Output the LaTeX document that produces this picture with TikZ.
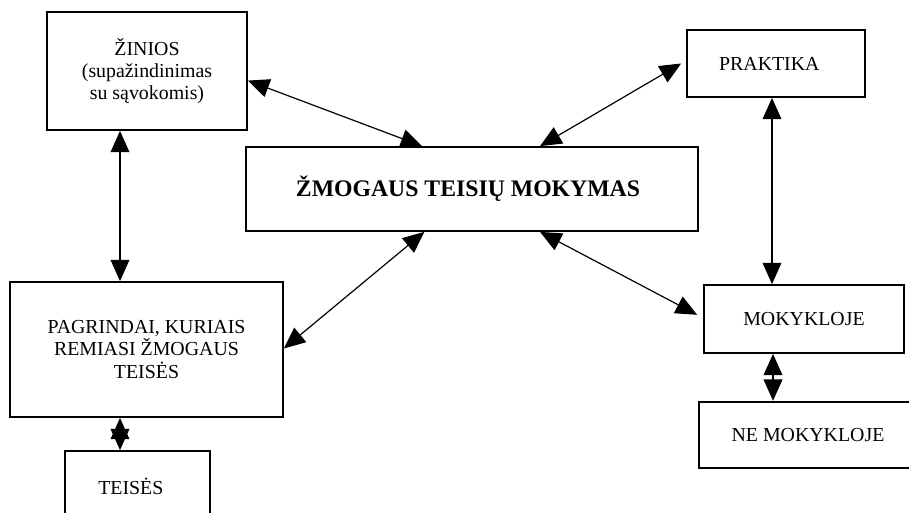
\documentclass[tikz,border=0pt]{standalone}
\usepackage{fontspec}
\setmainfont{Liberation Serif}
\usetikzlibrary{arrows.meta,calc}
\begin{document}
\begin{tikzpicture}[x=0.75pt,y=-0.75pt,
  box/.style={draw, line width=1.3pt, inner sep=0pt, align=center,
    font=\fontsize{14.9}{16.6}\selectfont},
  link/.style={line width=0.9pt,
    {Triangle[length=16pt,width=14pt]}-{Triangle[length=16pt,width=14pt]}},
  vlink/.style={link, line width=1.2pt}]
\useasboundingbox (0,0) rectangle (909,513);
\clip (0,0) rectangle (909,513);
\node[box, minimum width=150pt, minimum height=88.5pt] (zin) at (147,71)
  {ŽINIOS\\(supažindinimas\\su sąvokomis)};
\node[box, minimum width=133.5pt, minimum height=50.25pt] (pra) at (776,63.5)
  {PRAKTIKA\hspace{10pt}};
\node[box, minimum width=339pt, minimum height=63pt,
  font=\bfseries\fontsize{17.8}{20}\selectfont] (cen) at (472,189)
  {ŽMOGAUS TEISIŲ MOKYMAS\hspace{6pt}};
\node[box, minimum width=204.75pt, minimum height=101.25pt] (pag) at (146.5,349.5)
  {PAGRINDAI, KURIAIS\\REMIASI ŽMOGAUS\\TEISĖS};
\node[box, minimum width=108.75pt, minimum height=59.25pt, text depth=6pt] (tei) at (137.5,490.5)
  {TEISĖS\hspace{10pt}};
\node[box, minimum width=150pt, minimum height=51pt] (mok) at (804,319)
  {MOKYKLOJE};
\node[box, minimum width=163.5pt, minimum height=50pt] (nem) at (808,435)
  {NE MOKYKLOJE};
% connectors
\draw[link] ($(zin.north east)!0.58!(zin.south east)$) -- ($(cen.north west)!0.39!(cen.north east)$);
\draw[link] ($(cen.north west)!0.65!(cen.north east)$) -- ($(pra.north west)!0.5!(pra.south west)+(-5,0)$);
\draw[vlink] (zin.south -| 120,0) -- (pag.north -| 120,0);
\draw[link] ($(cen.south west)!0.395!(cen.south east)$) -- ($(pag.east)+(0,-1)$);
\draw[link] ($(cen.south west)!0.65!(cen.south east)$) -- ($(mok.north west)!0.44!(mok.south west)+(-6,0)$);
\draw[vlink] (pra.south -| 772,0) -- (mok.north -| 772,0);
\draw[vlink] (mok.south -| 773,0) -- (nem.north -| 773,0);
\draw[vlink] (pag.south -| 120,0) -- (tei.north -| 120,0);
\end{tikzpicture}
\end{document}
